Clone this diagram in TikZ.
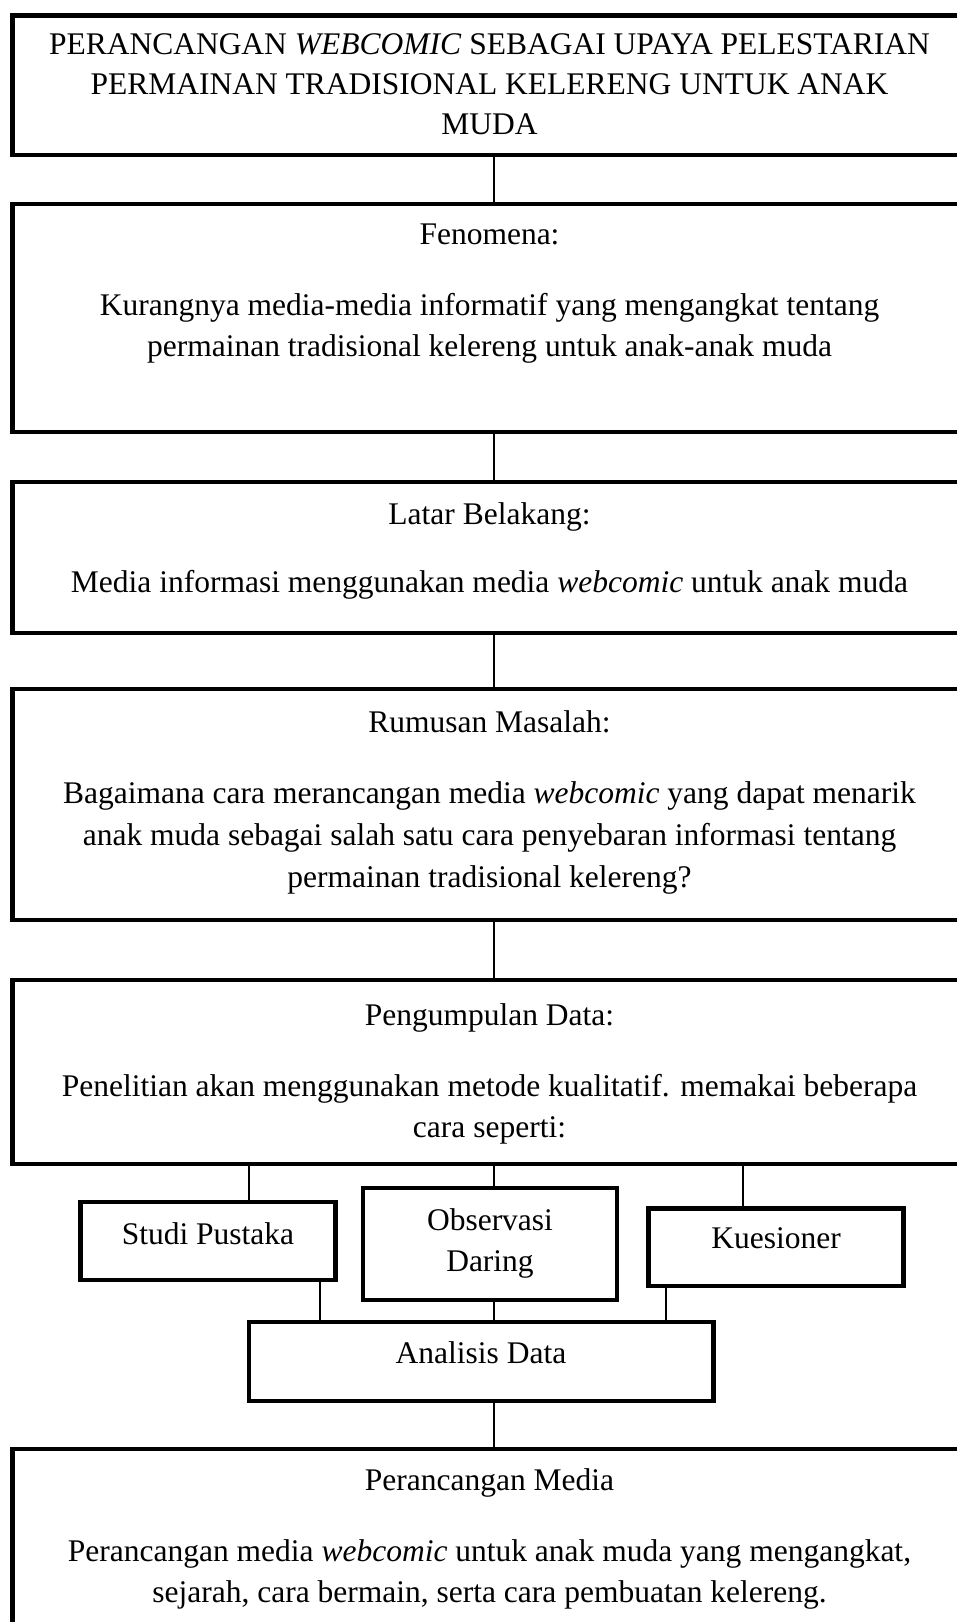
\documentclass[tikz,border=0pt]{standalone}
\usepackage{fontspec}
\setmainfont{Liberation Serif}
\usetikzlibrary{positioning}

\begin{document}
\begin{tikzpicture}[x=1pt,y=-1pt,
       box/.style={draw,line width=4.5pt,inner sep=0pt},
       txt/.style={align=center,inner sep=0pt,font=\fontsize{31.5}{41}\selectfont},
       conn/.style={line width=1.2pt}]
       \useasboundingbox (0,0) rectangle (957,1622);
       \clip (0,0) rectangle (957,1622);
       % kotak utama
       \node[box,minimum width=954,minimum height=139.5] (judul) at (489.5,85.25) {};
       \node[box,minimum width=954,minimum height=228] (fenomena) at (489.5,318) {};
       \node[box,minimum width=954,minimum height=151] (latar) at (489.5,557.5) {};
       \node[box,minimum width=954,minimum height=231] (rumusan) at (489.5,804.5) {};
       \node[box,minimum width=954,minimum height=184] (data) at (489.5,1072) {};
       \node[box,minimum width=954,minimum height=251] (rancang) at (489.5,1574.5) {};
       % kotak kecil
       \node[box,minimum width=255,minimum height=78] (studi) at (208,1241) {};
       \node[box,minimum width=254,minimum height=112] (observasi) at (490,1244) {};
       \node[box,minimum width=255,minimum height=77.5] (kuesioner) at (776,1247) {};
       \node[box,minimum width=464.5,minimum height=79] (analisis) at (481,1361.5) {};
       % teks
       \node[txt,font=\fontsize{31.5}{40}\selectfont] (judultxt) at (489.5,84.7) {PERANCANGAN \textit{WEBCOMIC} SEBAGAI UPAYA PELESTARIAN\\PERMAINAN TRADISIONAL KELERENG UNTUK ANAK\\MUDA};
       \node[txt] (fenomenatxt) at (489.5,293.6) {Fenomena:\\[30pt]Kurangnya media-media informatif yang mengangkat tentang\\permainan tradisional kelereng untuk anak-anak muda};
       \node[txt] (latartxt) at (489.5,550.5) {Latar Belakang:\\[27pt]Media informasi menggunakan media \textit{webcomic} untuk anak muda};
       \node[txt,font=\fontsize{31.5}{42}\selectfont] (rumusantxt) at (489.5,802.3) {Rumusan Masalah:\\[29pt]Bagaimana cara merancangan media \textit{webcomic} yang dapat menarik\\anak muda sebagai salah satu cara penyebaran informasi tentang\\permainan tradisional kelereng?};
       \node[txt] (datatxt) at (489.5,1074.2) {Pengumpulan Data:\\[30pt]Penelitian akan menggunakan metode kualitatif. memakai beberapa\\cara seperti:};
       \node[txt] (studitxt) at (208,1234) {Studi Pustaka};
       \node[txt] (observasitxt) at (490,1243.7) {Observasi\\Daring};
       \node[txt] (kuesionertxt) at (776,1238.7) {Kuesioner};
       \node[txt] (analisistxt) at (481,1352.5) {Analisis Data};
       \node[txt] (rancangtxt) at (489.5,1538.5) {Perancangan Media\\[30pt]Perancangan media \textit{webcomic} untuk anak muda yang mengangkat,\\sejarah, cara bermain, serta cara pembuatan kelereng.};
       % garis penghubung
       \coordinate (tengah) at (494,0);
       \coordinate (kiri) at (249,0);
       \coordinate (kanan) at (743,0);
       \coordinate (kiri2) at (320,0);
       \coordinate (kanan2) at (666,0);
       \draw[conn] (tengah |- judul.south) -- (tengah |- fenomena.north);
       \draw[conn] (tengah |- fenomena.south) -- (tengah |- latar.north);
       \draw[conn] (tengah |- latar.south) -- (tengah |- rumusan.north);
       \draw[conn] (tengah |- rumusan.south) -- (tengah |- data.north);
       \draw[conn] (kiri |- data.south) -- (kiri |- studi.north);
       \draw[conn] (tengah |- data.south) -- (tengah |- observasi.north);
       \draw[conn] (kanan |- data.south) -- (kanan |- kuesioner.north);
       \draw[conn] (kiri2 |- studi.south) -- (kiri2 |- analisis.north);
       \draw[conn] (tengah |- observasi.south) -- (tengah |- analisis.north);
       \draw[conn] (kanan2 |- kuesioner.south) -- (kanan2 |- analisis.north);
       \draw[conn] (tengah |- analisis.south) -- (tengah |- rancang.north);
\end{tikzpicture}
\end{document}
